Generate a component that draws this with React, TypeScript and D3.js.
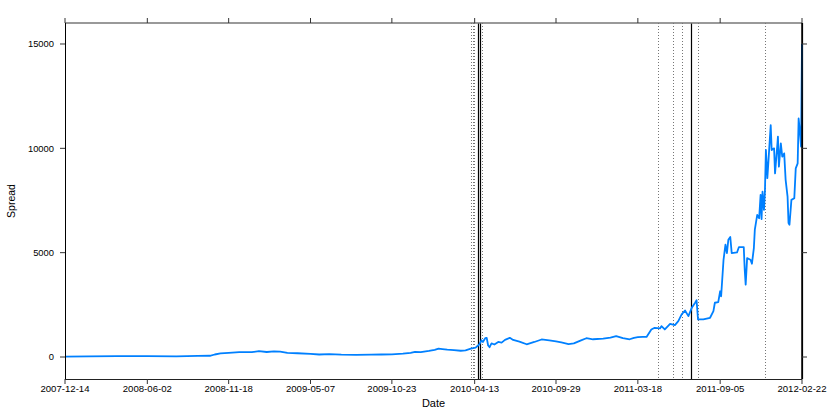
import React from "react";
import * as d3 from "d3";

const dates: string[] = [
  "2007-12-14","2008-02-01","2008-04-01","2008-06-02","2008-08-01","2008-09-15","2008-10-10","2008-10-20",
  "2008-11-01","2008-11-18","2008-12-10","2009-01-05","2009-01-20","2009-02-05","2009-02-20","2009-03-05",
  "2009-03-20","2009-04-10","2009-05-07","2009-05-25","2009-06-15","2009-07-10","2009-08-10","2009-09-10",
  "2009-10-01","2009-10-23","2009-11-15","2009-12-01","2009-12-10","2009-12-22","2010-01-08","2010-01-20",
  "2010-01-28","2010-02-05","2010-02-15","2010-03-01","2010-03-15","2010-03-25","2010-04-05","2010-04-15",
  "2010-04-20","2010-04-23","2010-04-27","2010-04-30","2010-05-05","2010-05-08","2010-05-11","2010-05-14",
  "2010-05-18","2010-05-24","2010-06-01","2010-06-08","2010-06-15","2010-06-25","2010-07-02","2010-07-15",
  "2010-07-30","2010-08-15","2010-08-30","2010-09-15","2010-09-29","2010-10-10","2010-10-25","2010-11-05",
  "2010-11-20","2010-12-01","2010-12-15","2011-01-05","2011-01-20","2011-02-01","2011-02-15","2011-03-01",
  "2011-03-10","2011-03-18","2011-03-28","2011-04-05","2011-04-15","2011-04-22","2011-05-03","2011-05-06",
  "2011-05-13","2011-05-24","2011-06-03","2011-06-10","2011-06-17","2011-06-24","2011-07-01","2011-07-08",
  "2011-07-15","2011-07-18","2011-07-21","2011-08-01","2011-08-15","2011-08-22","2011-08-25","2011-09-01",
  "2011-09-05","2011-09-07","2011-09-12","2011-09-16","2011-09-19","2011-09-22","2011-09-26","2011-09-29",
  "2011-10-10","2011-10-14","2011-10-24","2011-10-26","2011-10-28","2011-10-31","2011-11-07","2011-11-10",
  "2011-11-14","2011-11-16","2011-11-21","2011-11-25","2011-11-28","2011-11-30","2011-12-02","2011-12-05",
  "2011-12-07","2011-12-09","2011-12-12","2011-12-14","2011-12-19","2011-12-21","2011-12-26","2011-12-28",
  "2012-01-02","2012-01-03","2012-01-05","2012-01-09","2012-01-12","2012-01-16","2012-01-19","2012-01-23",
  "2012-01-25","2012-01-27","2012-01-31","2012-02-06","2012-02-09","2012-02-13","2012-02-15","2012-02-17",
  "2012-02-20","2012-02-22"
];

const spread: number[] = [
  20,30,40,45,35,50,60,120,
  170,200,230,230,280,240,270,260,
  200,180,150,120,140,110,100,110,
  120,130,160,200,250,230,290,340,
  400,380,350,330,300,320,400,450,
  550,620,800,720,900,920,550,470,
  650,600,720,690,820,920,820,740,
  610,720,840,800,750,700,620,650,
  800,900,850,880,930,1000,900,850,
  920,950,960,960,1320,1400,1370,1480,
  1320,1590,1530,1720,2040,2230,1960,2355,
  2600,2720,1800,1800,1880,2200,2600,2630,
  3150,2910,4660,5380,4980,5620,5750,4980,
  5010,5270,5270,4190,3470,4740,4660,4470,
  5220,6100,6810,6650,7770,6610,7930,7050,
  7930,9920,8570,9280,11110,9920,10000,8800,
  10240,10560,9120,10240,9600,9760,8490,7690,
  6420,6340,7530,7610,9040,9280,11430,10950,
  10080,15000
];

const eventDates: string[] = [
  "2010-04-06","2010-04-09","2010-04-12","2010-04-20","2010-04-25","2010-04-28",
  "2011-04-28","2011-05-31","2011-06-18","2011-07-07","2011-07-21","2011-12-07","2012-02-22"
];
const eventTypes: string[] = [
  "dotted","dotted","dotted","solid","solid","dotted",
  "dotted","dotted","dotted","solid","dotted","dotted","solid"
];

const xTickLabels: string[] = [
  "2007-12-14","2008-06-02","2008-11-18","2009-05-07","2009-10-23",
  "2010-04-13","2010-09-29","2011-03-18","2011-09-05","2012-02-22"
];
const yTicks: number[] = [0, 5000, 10000, 15000];

const W = 830, H = 415;
const L = 65, R = 802, T = 23, B = 379;
const FONT = "'Liberation Sans', Arial, Helvetica, sans-serif";

export default function App() {
  const parse = d3.timeParse("%Y-%m-%d");
  const data = dates.map((d, i) => ({ date: parse(d) as Date, v: spread[i] }));
  const x = d3.scaleTime()
    .domain([parse(xTickLabels[0]) as Date, parse(xTickLabels[xTickLabels.length - 1]) as Date])
    .range([L, R]);
  const y = d3.scaleLinear().domain([-1054, 16006]).range([B, T]);
  const line = d3.line<{ date: Date; v: number }>()
    .x(d => x(d.date))
    .y(d => y(d.v));
  const tickLen = 5;

  return (
    <div style={{ position: "fixed", left: 0, top: 0 }}>
      <svg width={W} height={H} style={{ display: "block", background: "#fff" }}>
        {eventDates.map((d, i) => {
          const xp = Math.round(x(parse(d) as Date)) + 0.5;
          const solid = eventTypes[i] === "solid";
          return (
            <line key={"ev" + i} x1={xp} x2={xp} y1={T} y2={B}
              stroke={solid ? "#000" : "#666"}
              strokeWidth={solid ? 1.2 : 0.9}
              strokeDasharray={solid ? undefined : "1,2"} />
          );
        })}
        <path d={line(data) || ""} fill="none" stroke="#0080ff" strokeWidth={1.8} strokeLinejoin="round" />
        <line x1={L} x2={R} y1={T} y2={T} stroke="#777" strokeWidth={1.5} />
        <line x1={L + 0.5} x2={L + 0.5} y1={T} y2={B} stroke="#000" strokeWidth={1} />
        <line x1={R} x2={R} y1={T} y2={B} stroke="#000" strokeWidth={1.5} />
        <line x1={L} x2={R} y1={B + 0.5} y2={B + 0.5} stroke="#222" strokeWidth={1} />
        {xTickLabels.map((lab, i) => {
          const xp = x(parse(lab) as Date);
          return (
            <g key={"xt" + i}>
              <line x1={xp} x2={xp} y1={B} y2={B + tickLen} stroke="#333" />
              <line x1={xp} x2={xp} y1={T} y2={T - tickLen} stroke="#333" />
              <text x={xp} y={B + 13} textAnchor="middle" fontFamily={FONT} fontSize={9.6} fill="#000">{lab}</text>
            </g>
          );
        })}
        {yTicks.map((t, i) => {
          const yp = y(t);
          return (
            <g key={"yt" + i}>
              <line x1={L} x2={L - tickLen} y1={yp} y2={yp} stroke="#333" />
              <line x1={R} x2={R + tickLen} y1={yp} y2={yp} stroke="#333" />
              <text x={L - 11} y={yp} dy="0.35em" textAnchor="end" fontFamily={FONT} fontSize={9.4} fill="#000">{t}</text>
            </g>
          );
        })}
        <text x={(L + R) / 2} y={407} textAnchor="middle" fontFamily={FONT} fontSize={11} fill="#000">Date</text>
        <text transform={`translate(15,${(T + B) / 2}) rotate(-90)`} textAnchor="middle" fontFamily={FONT} fontSize={10.5} fill="#000">Spread</text>
      </svg>
    </div>
  );
}
